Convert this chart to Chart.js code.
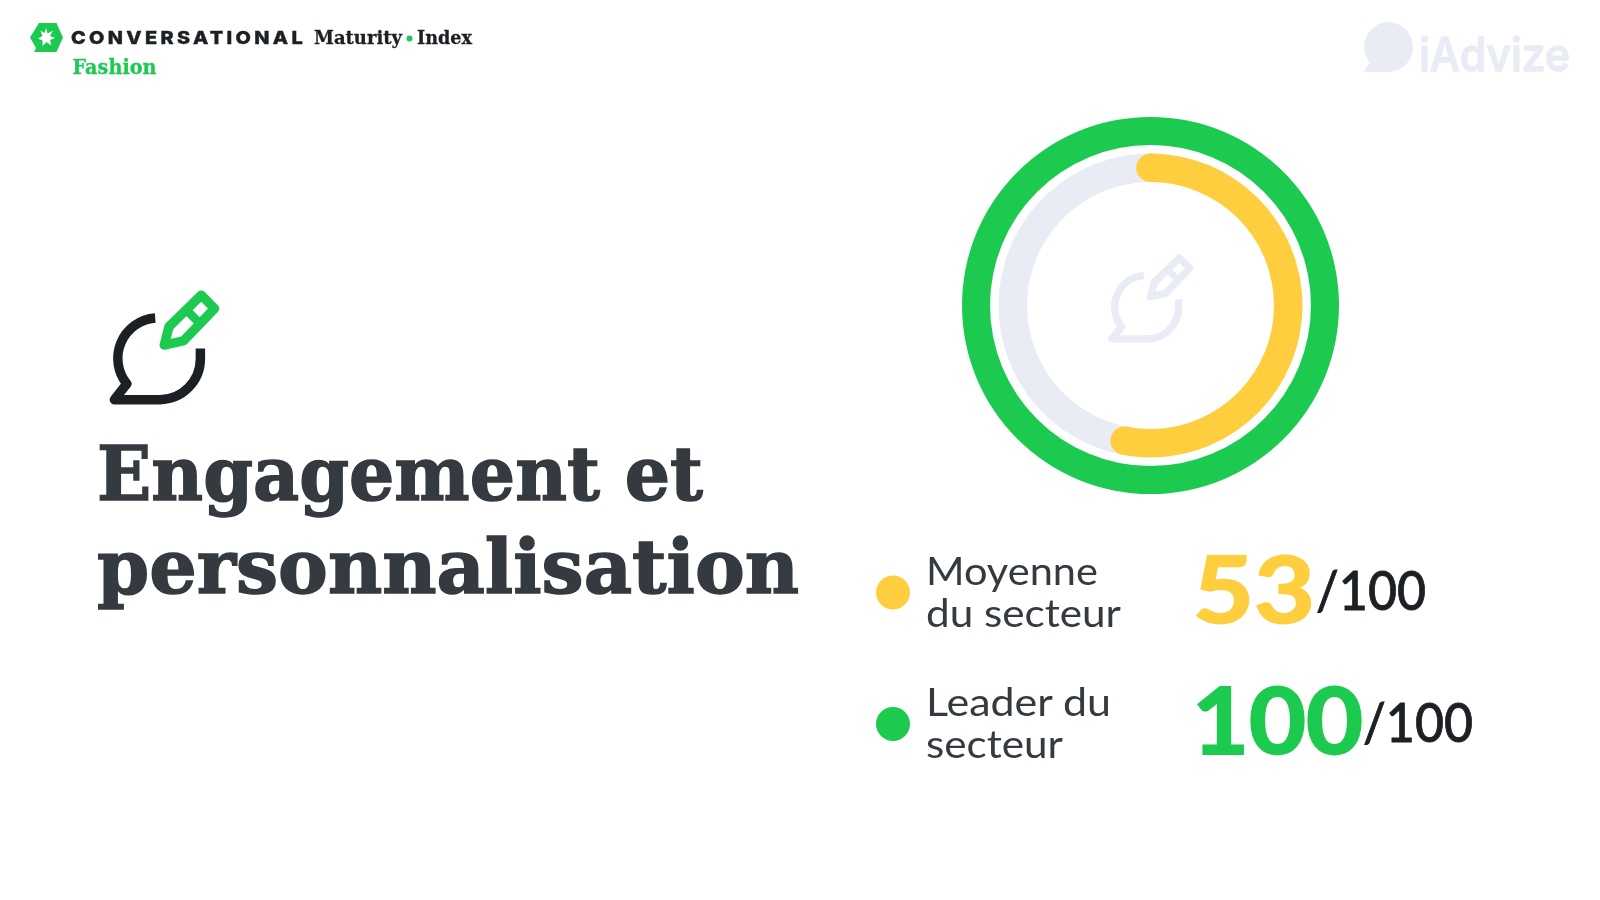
<!DOCTYPE html>
<html lang="fr">
<head>
<meta charset="utf-8">
<title>Engagement et personnalisation</title>
<script src="https://cdn.jsdelivr.net/npm/chart.js@4"></script>
<style>
    html, body { margin: 0; padding: 0; background: #fff; width: 1600px; height: 900px; overflow: hidden; }
    #ring { position: absolute; left: 950px; top: 105px; }
    #page { position: absolute; left: 0; top: 0; }
    .serif { font-family: "DejaVu Serif", serif; font-weight: 700; }
    .sans { font-family: Lato, "Open Sans", sans-serif; }
</style>
</head>
<body>
<canvas id="ring" width="401" height="401"></canvas>
<svg id="page" width="1600" height="900" xmlns="http://www.w3.org/2000/svg">
    <defs>
        <g id="bubble">
            <path d="M641 527 A94 94 0 0 0 575 680 L546 717 L652 717 A95 95 0 0 0 746 622 L746 598" fill="none" stroke-width="22" stroke-linejoin="round"/>
        </g>
        <g id="pencil">
            <path d="M662 590 L673 547 L748 474 L779 505 L707 580 Z" fill="none" stroke-width="22" stroke-linejoin="round"/>
            <path d="M712 507 L746 541" fill="none" stroke-width="20"/>
        </g>
    </defs>

    <!-- header logo -->
    <path d="M30 37.5 L39 23 H56.500 L63 37.500 L56.500 52 H34 L36 48 Z" fill="#1DCA50"/>
    <path d="M46 28 L47.500 33.500 L53 30.500 L50 36 L55 38 L50 40 L51.500 45.500 L46.500 42 L42.500 46 L42.500 40.500 L38 38.500 L42.500 36 L40.500 30.500 L44.500 33 Z" fill="#fff"/>
    <text x="71" y="44" textLength="235" lengthAdjust="spacingAndGlyphs" letter-spacing="3" font-family="Inter" font-weight="800" font-size="18" stroke="#1C2024" stroke-width="0.4" fill="#1C2024">CONVERSATIONAL</text>
    <text class="serif" x="314" y="44" textLength="88" lengthAdjust="spacingAndGlyphs" font-size="18" stroke="#1C2024" stroke-width="0.3" fill="#1C2024">Maturity</text>
    <circle cx="409.500" cy="38.500" r="3" fill="#1DCA50"/>
    <text class="serif" x="417" y="44" textLength="55" lengthAdjust="spacingAndGlyphs" font-size="18" stroke="#1C2024" stroke-width="0.3" fill="#1C2024">Index</text>
    <text class="serif" x="72.500" y="73.500" textLength="84" lengthAdjust="spacingAndGlyphs" font-size="20" stroke="#1DCA50" stroke-width="0.3" fill="#1DCA50">Fashion</text>

    <!-- iAdvize logo -->
    <path d="M1388 22 a25 25 0 0 1 0 50 H1367 Q1363 72 1365 69 L1370 63 A25 25 0 0 1 1388 22 Z" fill="#E9ECF4"/>
    <text x="1419" y="71" textLength="151" lengthAdjust="spacingAndGlyphs" font-family="Inter" font-weight="500" font-size="46" stroke="#E9ECF4" stroke-width="1.5" stroke-linejoin="round" fill="#E9ECF4">iAdvize</text>

    <!-- title icon -->
    <g transform="translate(107.500 287) scale(0.43) translate(-530 -455)">
        <use href="#bubble" stroke="#1C2024"/>
        <use href="#pencil" stroke="#1DCA50"/>
    </g>
    <text class="serif" x="97" y="500" textLength="606" lengthAdjust="spacingAndGlyphs" font-size="75" stroke="#343A40" stroke-width="1.5" fill="#343A40">Engagement et</text>
    <text class="serif" x="97" y="593" textLength="702" lengthAdjust="spacingAndGlyphs" font-size="75" stroke="#343A40" stroke-width="1.5" fill="#343A40">personnalisation</text>

    <!-- icon in the middle of the ring -->
    <g transform="translate(930 100) scale(0.3333)">
        <use href="#bubble" stroke="#E9ECF4"/>
        <use href="#pencil" stroke="#E9ECF4"/>
    </g>

    <g id="legend"></g>
</svg>

<script>
    // Values
    const categories = [["Moyenne", "du secteur"], ["Leader du", "secteur"]];
    const sectorAverage = [53];
    const sectorLeader = [100];
    const maxScore = 100;

    const trackColor = "#E9ECF4";
    const yellow = "#FFCE3F";
    const green = "#1DCA50";

    // Round ends of the yellow arc, taken from the arc the library laid out
    const roundCaps = {
        id: "roundCaps",
        afterDatasetsDraw(chart) {
            let arc = chart.getDatasetMeta(2).data[0];
            let r = (arc.innerRadius + arc.outerRadius) / 2;
            let w = (arc.outerRadius - arc.innerRadius) / 2;
            let ctx = chart.ctx;
            ctx.save();
            ctx.fillStyle = yellow;
            [arc.startAngle, arc.endAngle].forEach(a => {
                ctx.beginPath();
                ctx.arc(arc.x + r * Math.cos(a), arc.y + r * Math.sin(a), w, 0, Math.PI * 2);
                ctx.fill();
            });
            ctx.restore();
        }
    };

    new Chart(document.getElementById("ring"), {
        type: "doughnut",
        data: {
            labels: ["Score", "Reste"],
            datasets: [
                { data: sectorLeader, backgroundColor: [green], weight: 28 },
                // empty ring, only keeps the white gap between the two
                { data: [maxScore], backgroundColor: ["rgba(0,0,0,0)"], weight: 8.5 },
                { data: [sectorAverage[0], maxScore - sectorAverage[0]], backgroundColor: [yellow, trackColor], weight: 28.5 }
            ]
        },
        options: {
            responsive: false,
            animation: false,
            radius: 188.5,
            cutout: "65.5%",
            borderWidth: 0,
            plugins: { legend: { display: false }, tooltip: { enabled: false } }
        },
        plugins: [roundCaps]
    });

    // Legend rows
    const svgNS = "http://www.w3.org/2000/svg";
    function addText(parent, str, x, y, size, weight, color, len, heavy) {
        let t = document.createElementNS(svgNS, "text");
        t.setAttribute("class", "sans");
        t.setAttribute("x", x);
        t.setAttribute("y", y);
        t.setAttribute("font-size", size);
        t.setAttribute("font-weight", weight);
        t.setAttribute("fill", color);
        if (heavy) {
            t.setAttribute("stroke", color);
            t.setAttribute("stroke-width", heavy);
        }
        if (len) {
            t.setAttribute("textLength", len);
            t.setAttribute("lengthAdjust", "spacingAndGlyphs");
        }
        t.textContent = str;
        parent.appendChild(t);
    }

    let legend = document.getElementById("legend");
    let rows = [
        { cy: 592.5, color: yellow, score: sectorAverage[0], lines: [585, 627], lens: [172, 195], numX: 1193, numLen: 122, numBase: 623, outX: 1316, outLen: 110, outBase: 610 },
        { cy: 724, color: green, score: sectorLeader[0], lines: [716, 758], lens: [185, 137], numX: 1192, numLen: 171, numBase: 754, outX: 1363, outLen: 110, outBase: 742 }
    ];
    rows.forEach((row, i) => {
        let dot = document.createElementNS(svgNS, "circle");
        dot.setAttribute("cx", 893);
        dot.setAttribute("cy", row.cy);
        dot.setAttribute("r", 17);
        dot.setAttribute("fill", row.color);
        legend.appendChild(dot);
        categories[i].forEach((line, j) => addText(legend, line, 926, row.lines[j], 39, 400, "#343A40", row.lens[j]));
        addText(legend, String(row.score), row.numX, row.numBase, 92, 700, row.color, row.numLen, 2);
        addText(legend, "/" + maxScore, row.outX, row.outBase, 54, 500, "#1C2024", row.outLen, 0.8);
    });
</script>
</body>
</html>
